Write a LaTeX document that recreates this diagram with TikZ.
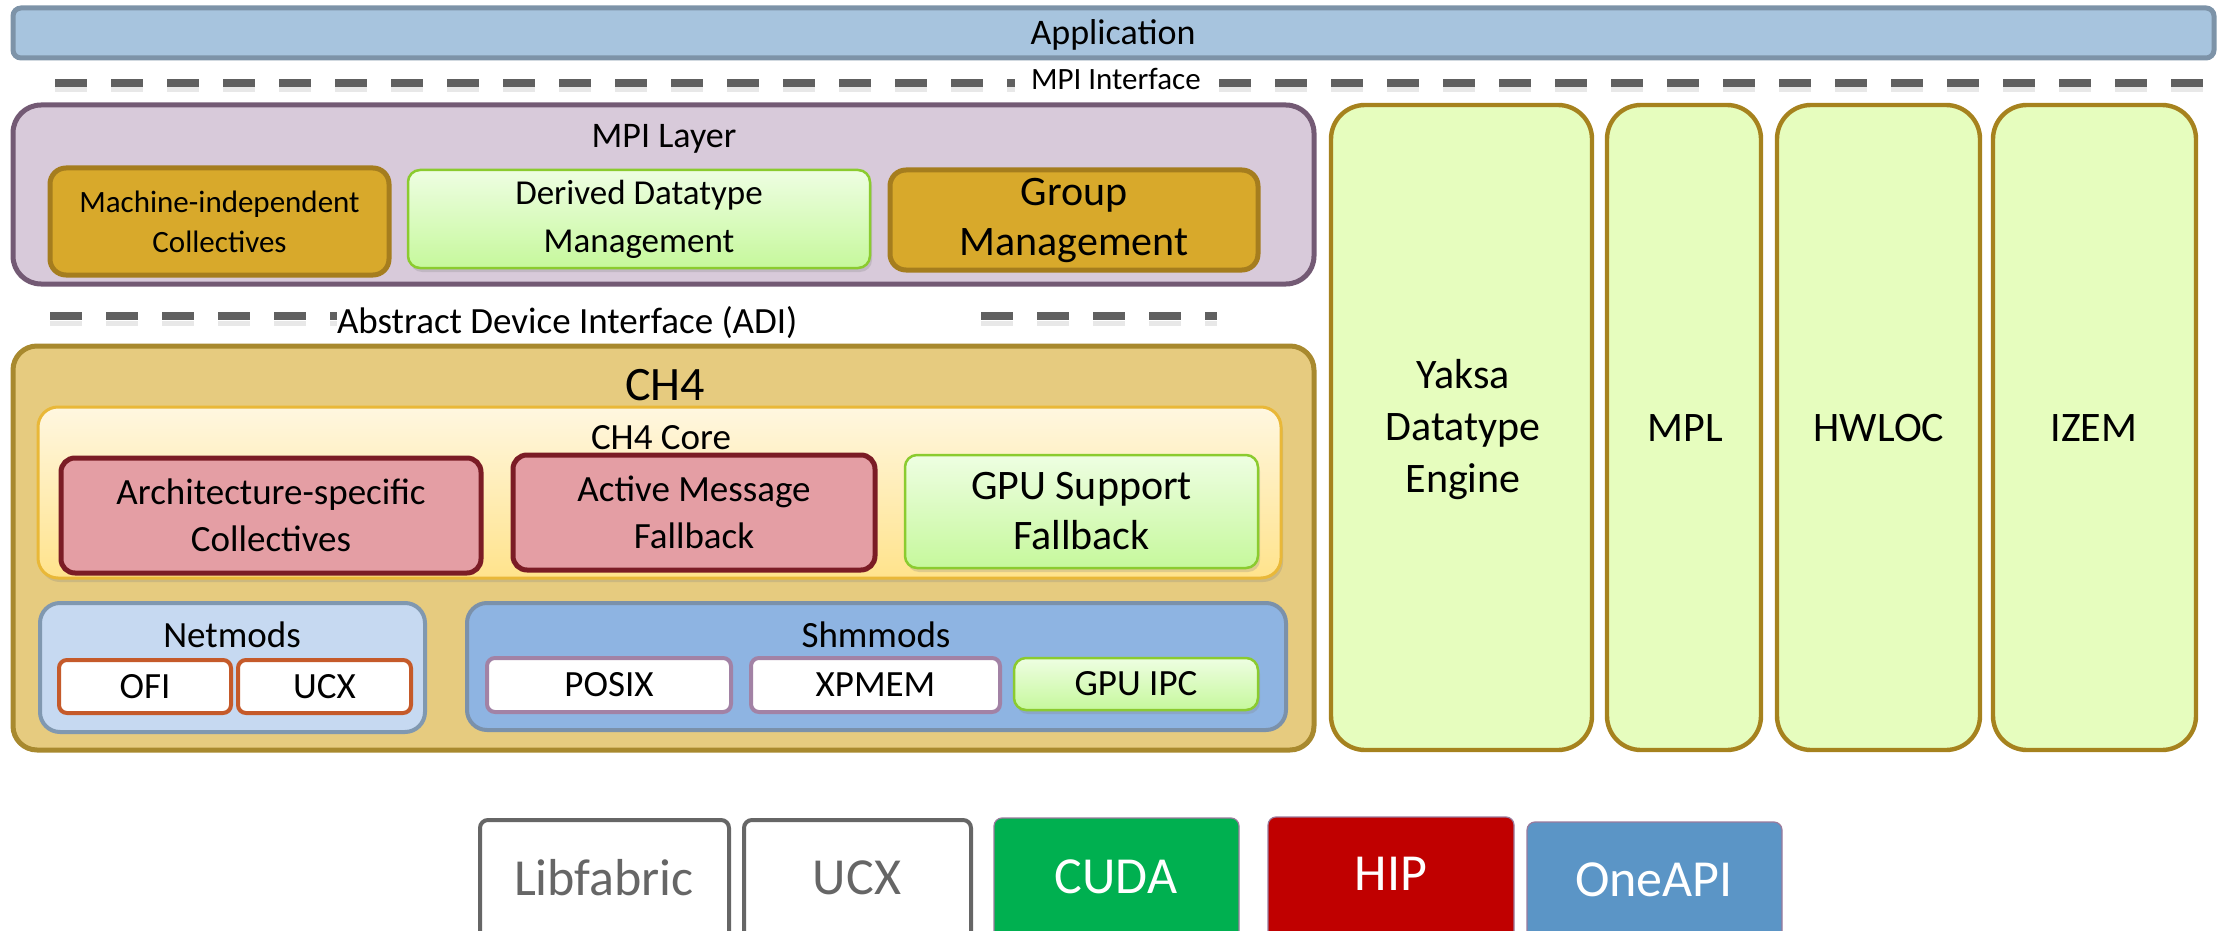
\documentclass[tikz,border=0pt]{standalone}
\usepackage{fontspec}
\setmainfont{Carlito}
\usetikzlibrary{shadows}

\definecolor{appfill}{HTML}{A7C4DE}
\definecolor{appdraw}{HTML}{7D93A8}
\definecolor{dashgray}{HTML}{606060}
\definecolor{mpifill}{HTML}{D8CADA}
\definecolor{mpidraw}{HTML}{735A74}
\definecolor{goldfill}{HTML}{D8A92B}
\definecolor{golddraw}{HTML}{A57D1E}
\definecolor{greendraw}{HTML}{8BCB2F}
\definecolor{grtop}{HTML}{EEFEE2}
\definecolor{grbot}{HTML}{C6F89C}
\definecolor{chfill}{HTML}{E6CB7F}
\definecolor{chdraw}{HTML}{A8892E}
\definecolor{coretop}{HTML}{FFF7E0}
\definecolor{corebot}{HTML}{FFE38C}
\definecolor{coredraw}{HTML}{E9B838}
\definecolor{redfill}{HTML}{E49EA4}
\definecolor{reddraw}{HTML}{7B1C25}
\definecolor{netfill}{HTML}{C6D9F1}
\definecolor{netdraw}{HTML}{8098B0}
\definecolor{shmfill}{HTML}{8EB4E2}
\definecolor{shmdraw}{HTML}{7B91AA}
\definecolor{ofidraw}{HTML}{C55A2A}
\definecolor{posixdraw}{HTML}{A282A5}
\definecolor{yakfill}{HTML}{E6FDBE}
\definecolor{yakdraw}{HTML}{A6821E}
\definecolor{libgray}{HTML}{666666}
\definecolor{cudafill}{HTML}{00B050}
\definecolor{hipfill}{HTML}{C00000}
\definecolor{onefill}{HTML}{5B95C6}
\definecolor{thinpurple}{HTML}{9A7A9C}

\newcommand\fnt[2]{\fontsize{#1}{#2}\selectfont}
\newcommand\mybox[7]{\node[base,#2,minimum width={(#5-#3)*0.5pt},minimum height={(#6-#4)*0.5pt}] (#1) at ({(#3+#5)/2},{(#4+#6)/2}) {#7};}

\tikzset{
  base/.style={rectangle, inner sep=0pt, outer sep=0pt, align=center, text=black},
  appbox/.style={fill=appfill, draw=appdraw, line width=2.5pt, rounded corners=4pt},
  dashline/.style={line width=4pt, draw=dashgray, dash pattern=on 16pt off 12pt},
  dashshadow/.style={line width=2.5pt, draw=black!9, dash pattern=on 16pt off 12pt},
  mpibox/.style={fill=mpifill, draw=mpidraw, line width=2.5pt, rounded corners=14pt},
  goldbox/.style={fill=goldfill, draw=golddraw, line width=2.5pt, rounded corners=8pt},
  greenbox/.style={draw=greendraw, line width=1.25pt, rounded corners=6pt, top color=grtop, bottom color=grbot,
     drop shadow={opacity=0.25, shadow xshift=1pt, shadow yshift=-2pt}},
  chbox/.style={fill=chfill, draw=chdraw, line width=2.5pt, rounded corners=12pt},
  corebox/.style={draw=coredraw, line width=1.5pt, rounded corners=10pt, top color=coretop, bottom color=corebot,
     drop shadow={opacity=0.25, shadow xshift=1pt, shadow yshift=-2pt}},
  redbox/.style={fill=redfill, draw=reddraw, line width=2.5pt, rounded corners=7pt, font=\fnt{18.5}{23.5}},
  netbox/.style={fill=netfill, draw=netdraw, line width=2pt, rounded corners=10pt},
  shmbox/.style={fill=shmfill, draw=shmdraw, line width=2pt, rounded corners=10pt},
  ofibox/.style={fill=white, draw=ofidraw, line width=2pt, rounded corners=4pt, font=\fnt{18.5}{22}},
  posixbox/.style={fill=white, draw=posixdraw, line width=2pt, rounded corners=4pt, font=\fnt{18.5}{22}},
  yakbox/.style={fill=yakfill, draw=yakdraw, line width=2.2pt, rounded corners=17pt},
  libbox/.style={fill=white, draw=libgray, line width=2pt, rounded corners=4pt},
  colbox/.style={draw=thinpurple, line width=0.6pt, rounded corners=4pt},
  title/.style={inner sep=0pt, outer sep=0pt, text=black},
  coltext/.style={inner sep=0pt, align=center, text=black, font=\fnt{21}{26}},
}

\begin{document}
\begin{tikzpicture}[x=0.5pt,y=-0.5pt]
\useasboundingbox (0,0) rectangle (2224,931);
\clip (0,0) rectangle (2224,931);

% Application
\mybox{app}{appbox}{13}{8}{2214}{58}{}
\node[title, anchor=base, font=\fnt{18}{22}] (apptitle) at (1113,45) {Application};

% MPI Interface dashed line
\coordinate (mi1) at (55,83);
\coordinate (mi2) at (1015,83);
\coordinate (mi3) at (1219,83);
\coordinate (mi4) at (2206,83);
\draw[dashshadow] ([yshift=-3.5pt]mi1) -- ([yshift=-3.5pt]mi2);
\draw[dashshadow] ([yshift=-3.5pt]mi3) -- ([yshift=-3.5pt]mi4);
\draw[dashline] (mi1) -- (mi2);
\draw[dashline] (mi3) -- (mi4);
\node[title, fill=white, anchor=base west, font=\fnt{15.5}{18}] (mpiif) at (1031,90) {MPI Interface};

% MPI Layer
\mybox{mpil}{mpibox}{13}{105}{1314}{284}{}
\node[title, anchor=base, font=\fnt{18}{22}] (mpiltitle) at (664,148) {MPI Layer};
\mybox{mic}{goldbox, font=\fnt{15.5}{20}}{50}{168}{389}{275}{Machine-independent\\Collectives}
\mybox{ddm}{greenbox, font=\fnt{17.5}{24}}{408}{170}{870}{268}{Derived Datatype\\Management}
\mybox{grp}{goldbox, font=\fnt{21}{25}}{890}{170}{1258}{270}{Group\\Management}

% ADI dashed line
\coordinate (ad1) at (50,316);
\coordinate (ad2) at (362,316);
\coordinate (ad3) at (981,316);
\coordinate (ad4) at (1217,316);
\draw[dashshadow] ([yshift=-3.5pt]ad1) -- ([yshift=-3.5pt]ad2);
\draw[dashshadow] ([yshift=-3.5pt]ad3) -- ([yshift=-3.5pt]ad4);
\draw[dashline] (ad1) -- (ad2);
\draw[dashline] (ad3) -- (ad4);
\node[title, fill=white, anchor=base west, font=\fnt{18.5}{22}] (adi) at (337,333) {Abstract Device Interface (ADI)};

% CH4
\mybox{ch4}{chbox}{13}{346}{1314}{750}{}
\node[title, font=\fnt{24}{28}] (ch4title) at (665,385) {CH4};
\mybox{core}{corebox}{38}{407}{1281}{578}{}
\node[title, font=\fnt{18.5}{22}] (coretitle) at (661,438) {CH4 Core};
\mybox{arch}{redbox}{61}{458}{481}{573}{Architecture-specific\\Collectives}
\mybox{am}{redbox}{513}{455}{875}{570}{Active Message\\Fallback}
\mybox{gpu}{greenbox, font=\fnt{21}{25}}{905}{455}{1258}{568}{GPU Support\\Fallback}

\mybox{net}{netbox}{40}{603}{425}{732}{}
\node[title, font=\fnt{18.5}{22}] (nettitle) at (232,635) {Netmods};
\mybox{ofi}{ofibox}{59}{660}{231}{713}{OFI}
\mybox{ucx}{ofibox}{238}{660}{411}{713}{UCX}

\mybox{shm}{shmbox}{467}{603}{1286}{730}{}
\node[title, font=\fnt{18.5}{22}] (shmtitle) at (876,635) {Shmmods};
\mybox{posix}{posixbox}{487}{658}{731}{712}{POSIX}
\mybox{xpmem}{posixbox}{751}{658}{1000}{712}{XPMEM}
\mybox{gpuipc}{greenbox, font=\fnt{18.5}{22}}{1014}{658}{1258}{710}{GPU IPC}

% Right column
\mybox{yaksa}{yakbox}{1331}{105}{1592}{750}{}
\mybox{mpl}{yakbox}{1607}{105}{1761}{750}{}
\mybox{hwloc}{yakbox}{1777}{105}{1980}{750}{}
\mybox{izem}{yakbox}{1993}{105}{2196}{750}{}
\node[coltext] (yaksat) at (1463,430) {Yaksa\\Datatype\\Engine};
\node[coltext] (mplt) at (1685,428) {MPL};
\node[coltext] (hwloct) at (1879,428) {HWLOC};
\node[coltext] (izemt) at (2094,428) {IZEM};

% Bottom
\mybox{libf}{libbox}{480}{820}{729}{1010}{}
\mybox{ucxb}{libbox}{744}{820}{971}{1010}{}
\mybox{cuda}{colbox, fill=cudafill}{994}{818}{1239}{1010}{}
\mybox{hip}{colbox, fill=hipfill}{1268}{817}{1514}{1010}{}
\mybox{onea}{colbox, fill=onefill}{1527}{822}{1782}{1010}{}
\node[title, text=libgray, font=\fnt{26}{30}] (libft) at (604,878) {Libfabric};
\node[title, text=libgray, font=\fnt{26}{30}] (ucxbt) at (857,878) {UCX};
\node[title, text=white, font=\fnt{26}{30}] (cudat) at (1116,877) {CUDA};
\node[title, text=white, font=\fnt{26}{30}] (hipt) at (1391,874) {HIP};
\node[title, text=white, font=\fnt{26}{30}] (oneat) at (1654,880) {OneAPI};
\end{tikzpicture}
\end{document}
